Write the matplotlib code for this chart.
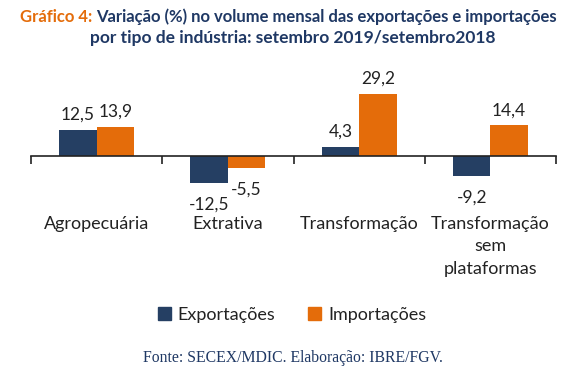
import numpy as np
import matplotlib.pyplot as plt
from matplotlib.patches import Patch

categorias = ['Agropecuária', 'Extrativa', 'Transformação', 'Transformação\nsem\nplataformas']
exportacoes = [12.5, -12.5, 4.3, -9.2]
importacoes = [13.9, -5.5, 29.2, 14.4]
rotulos_exp = ['12,5', '-12,5', '4,3', '-9,2']
rotulos_imp = ['13,9', '-5,5', '29,2', '14,4']

azul = '#253F63'
laranja = '#E46C0A'
titulo_cor = '#1F3864'

plt.rcParams['font.family'] = ['Lato', 'DejaVu Sans']

W, H = 583, 377
fig = plt.figure(figsize=(W / 100, H / 100), dpi=100)

# eixo: zero em y=156 px, 2.12 px por unidade, x de 31 a 556 px
ymin, ymax = -14, 31
ppu = 2.12
zero_px = 156
top_px = zero_px - ymax * ppu
bot_px = zero_px - ymin * ppu
ax = fig.add_axes([31 / W, 1 - bot_px / H, 525 / W, (bot_px - top_px) / H])

x = np.arange(len(categorias))
w = 0.285
b1 = ax.bar(x - w / 2, exportacoes, w, color=azul)
b2 = ax.bar(x + w / 2, importacoes, w, color=laranja)

for bars, labs in ((b1, rotulos_exp), (b2, rotulos_imp)):
    for rect, lab in zip(bars, labs):
        v = rect.get_height()
        xc = rect.get_x() + rect.get_width() / 2
        if v >= 0:
            ax.annotate(lab, (xc, v), xytext=(0, 7), textcoords='offset pixels',
                        ha='center', va='bottom', fontsize=12.5, color='#222222')
        else:
            ax.annotate(lab, (xc, v), xytext=(0, -14), textcoords='offset pixels',
                        ha='center', va='top', fontsize=12.5, color='#222222')

ax.set_xlim(-0.5, len(categorias) - 0.5)
ax.set_ylim(ymin, ymax)
for s in ['top', 'right', 'left']:
    ax.spines[s].set_visible(False)
ax.spines['bottom'].set_position(('data', 0))
ax.spines['bottom'].set_color('#222222')
ax.spines['bottom'].set_linewidth(1.2)
ax.set_yticks([])

ax.set_xticks(np.arange(len(categorias) + 1) - 0.5)
ax.set_xticklabels([])
ax.tick_params(axis='x', which='major', length=6, width=1.2, color='#222222', direction='out')
ax.set_xticks(x, minor=True)
ax.set_xticklabels(categorias, minor=True, fontsize=13, color='#222222', linespacing=1.5)
ax.tick_params(axis='x', which='minor', length=0, pad=43)

t1a = 'Gráfico 4: '
t1b = 'Variação (%) no volume mensal das exportações e importações'
txt = fig.text(20 / W, 1 - 17 / H, t1a, ha='left', va='center', fontsize=12,
               fontweight='bold', color=laranja)
fig.canvas.draw()
bb = txt.get_window_extent()
fig.text(bb.x1 / W, 1 - 17 / H, t1b, ha='left', va='center', fontsize=12,
         fontweight='bold', color=titulo_cor)
fig.text(293 / W, 1 - 38 / H, 'por tipo de indústria: setembro 2019/setembro2018',
         ha='center', va='center', fontsize=12.5, fontweight='bold', color=titulo_cor)

handles = [Patch(color=azul, label='Exportações'), Patch(color=laranja, label='Importações')]
fig.legend(handles=handles, loc='center', bbox_to_anchor=(292 / W, 1 - 315 / H), ncol=2,
           frameon=False, fontsize=13, handlelength=0.7, handleheight=0.7,
           handletextpad=0.4, columnspacing=1.8, labelcolor='#222222')

fig.text(293 / W, 1 - 358 / H, 'Fonte: SECEX/MDIC. Elaboração: IBRE/FGV.', ha='center',
         va='center', fontsize=11.3, family=['Liberation Serif', 'DejaVu Serif'], color=titulo_cor)

fig.savefig('out.png', dpi=100)
